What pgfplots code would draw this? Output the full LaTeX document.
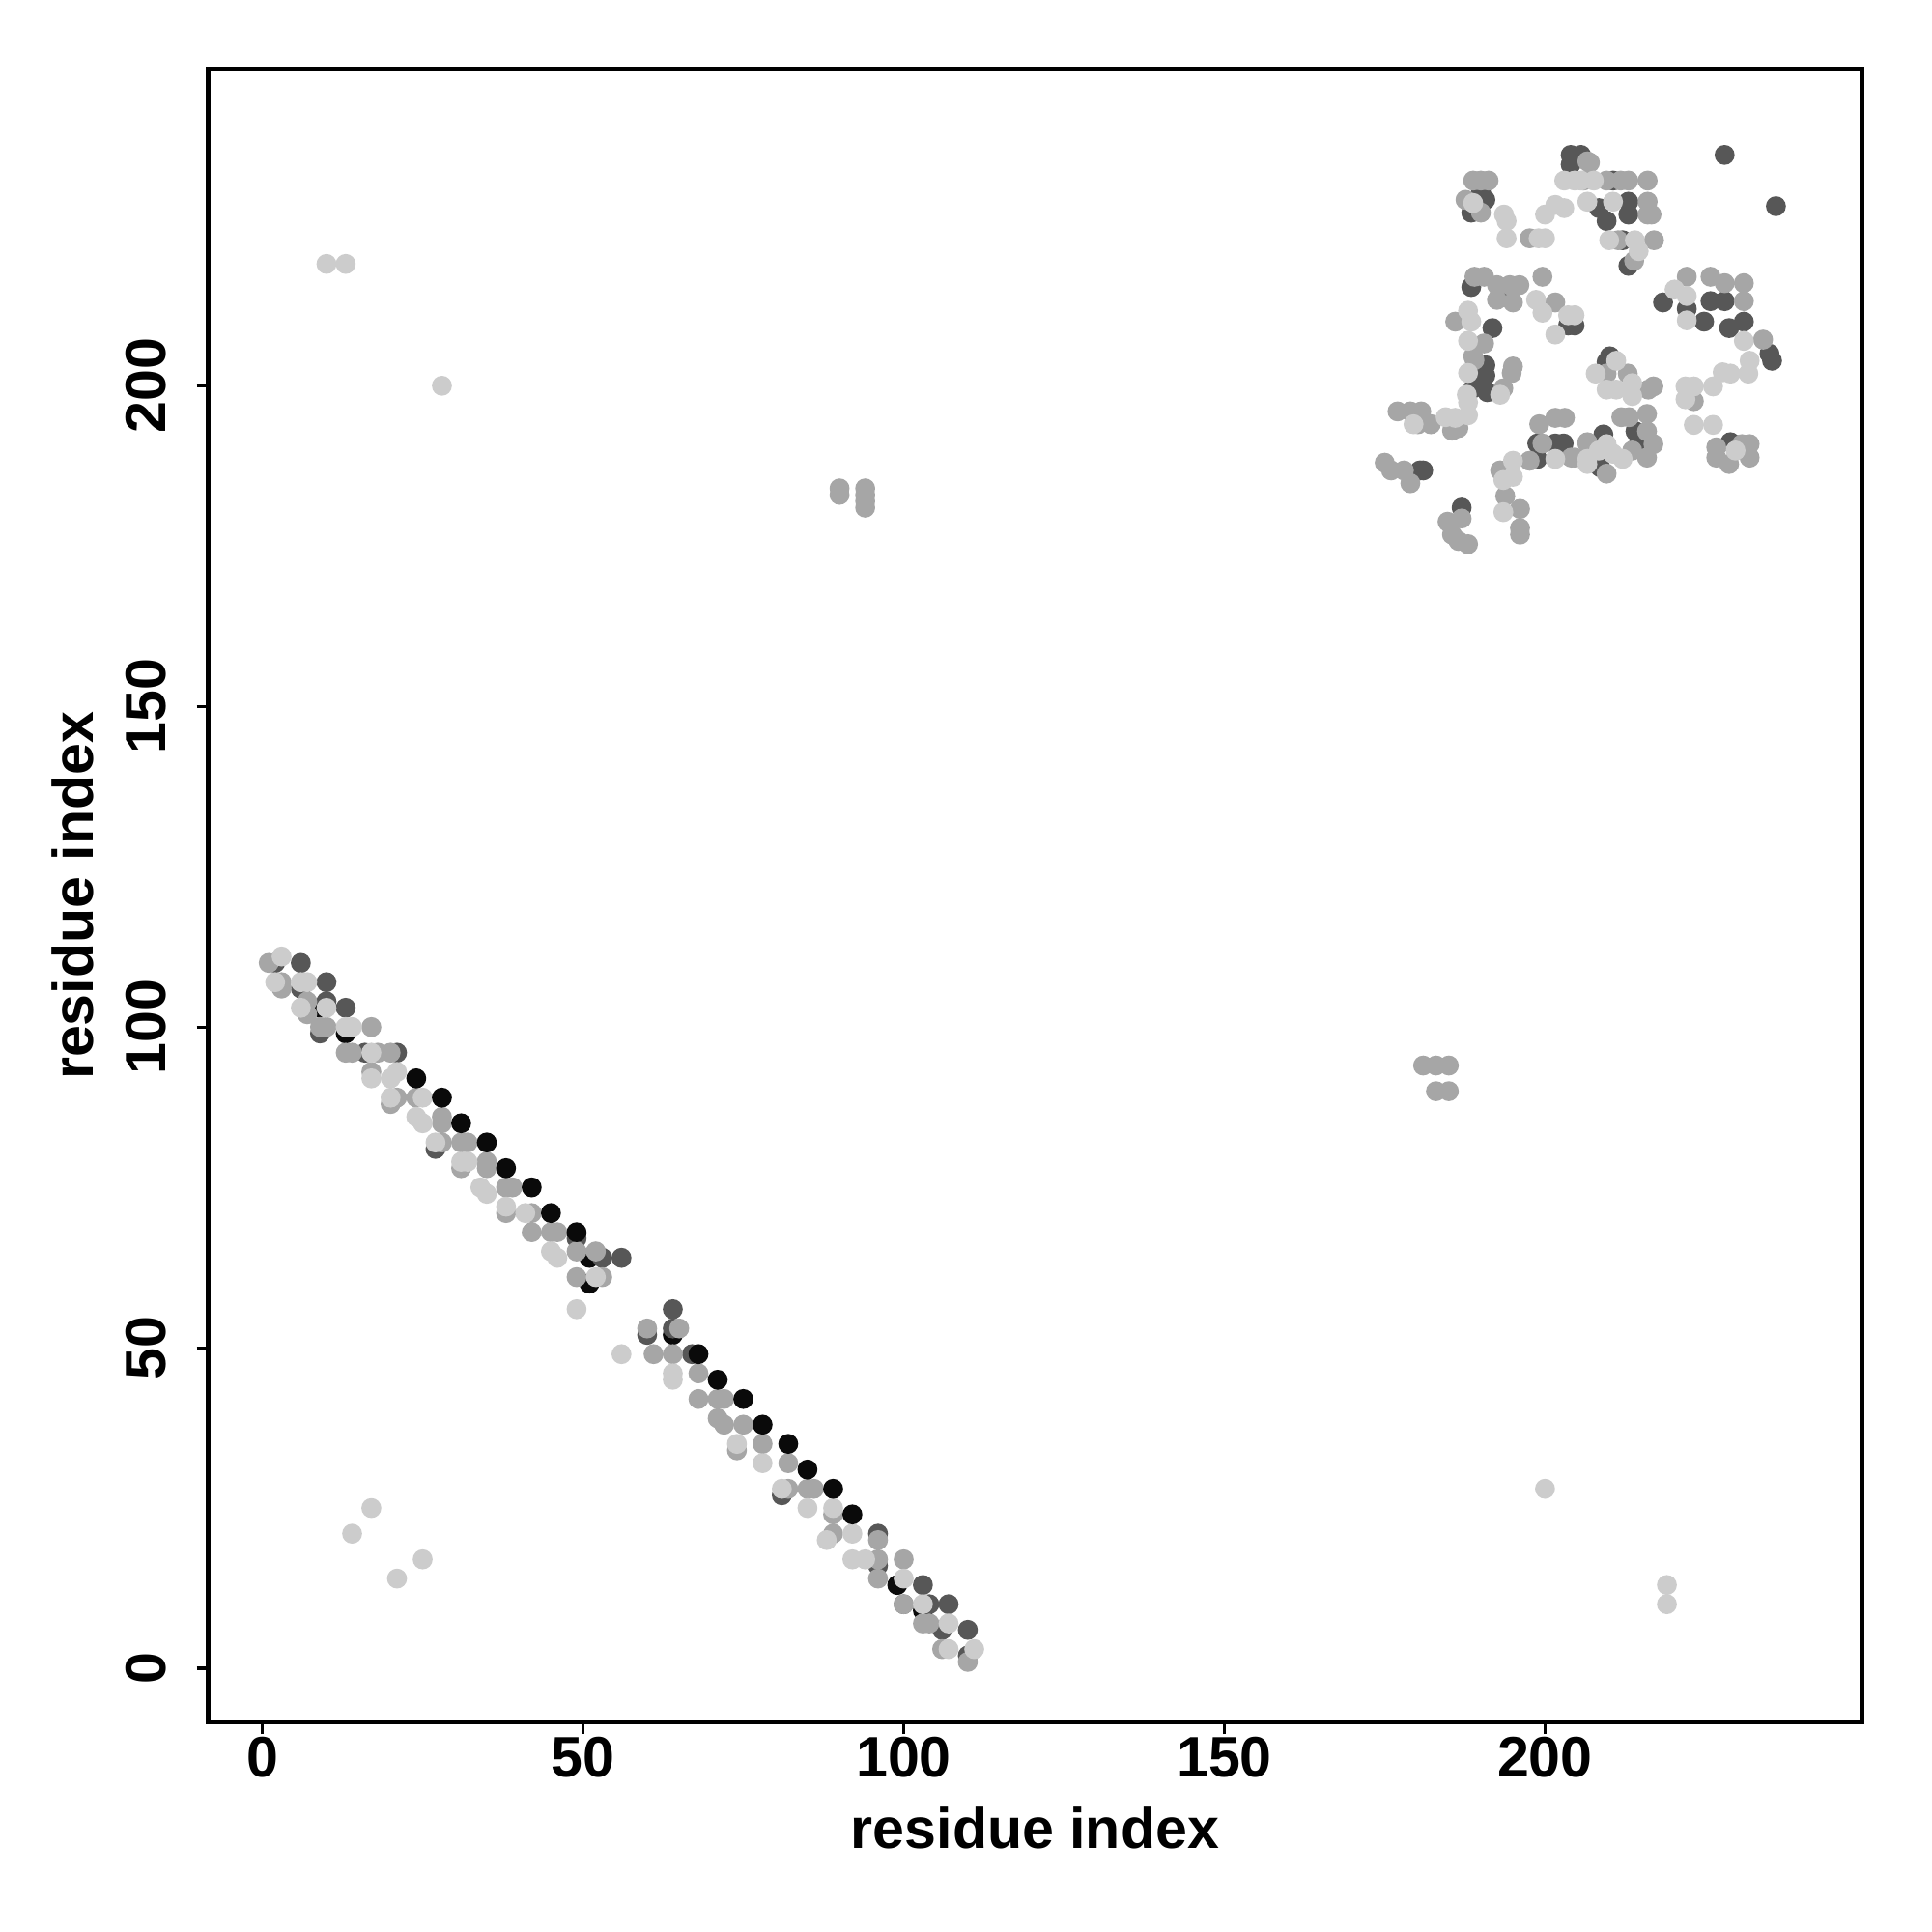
\documentclass[border=0pt]{standalone}
\usepackage{fontspec}
\setmainfont{Liberation Sans}
\usepackage{pgfplots}
\pgfplotsset{compat=1.18}
\definecolor{Kc}{gray}{0.04}
\definecolor{Dc}{gray}{0.34}
\definecolor{Mc}{gray}{0.65}
\definecolor{Lc}{gray}{0.80}
\pgfplotsset{pts/.style={only marks, mark=*, mark size=2.4pt, color=#1, mark options={draw=none, fill=#1}}}
\begin{document}
\begin{tikzpicture}
\begin{axis}[
  scale only axis, width=431.4pt, height=431.4pt,
  xmin=-8.45, xmax=249.4, ymin=-8.47, ymax=249.4,
  xtick={0,50,100,150,200}, ytick={0,50,100,150,200},
  tick align=outside, major tick length=3pt, tick pos=left,
  axis line style={line width=1.1pt},
  every tick/.style={black, line width=0.8pt},
  /pgf/number format/assume math mode=true,
  ticklabel style={font=\fontsize{14.9}{17}\selectfont\bfseries},
  xticklabel style={anchor=center, inner sep=0pt},
  xticklabel shift=6.1pt,
  yticklabel style={rotate=90, anchor=center, inner sep=0pt},
  yticklabel shift=13.2pt,
]
% black, partly covered
\addplot[pts=Kc] coordinates {
(9,103)(13,99)(51,64)(51,60)(64,52)(99,13)(103,9)
};
% dark
\addplot[pts=Dc] coordinates {
(2,110)(6,110)(6,106)(10,107)(10,104)(13,103)(9,99)(16,96)(21,96)(27,81)(49,67)(53,64)(56,64)(64,56)(60,52)(64,53)(67,49)(81,27)(96,21)(96,16)(103,13)(100,10)(104,10)(107,10)(106,6)(110,6)(110,2)
(228,236)(236,228)
(204,236)(204,234.5)(190,230.5)(190.7,229)(188.5,227)(188.5,215.4)(193,214.4)(191.8,209)(203.6,209.4)(205.6,236)(210.6,232)(208.4,227.7)(209.6,225.7)(213,228.7)(213,226.7)(212.1,222.7)(213,218.7)(218.4,213)(222.1,212)(225.8,213.2)(228,213.2)(224.8,210)(228.7,209)(231,210)(235,205)(210.1,204.6)(204.6,209.4)(190.7,203.2)(190.7,201.6)(188.8,199.6)(191,199)(180.5,186.8)(181,186.8)(198.8,191)(198.8,188.6)(201.6,191)(202.9,191)(187,181)(209.6,203.7)(235.4,203.9)(228.9,191.2)(209.1,192.4)(208.6,187.3)(214.1,192.9)(214.6,190.9)
};
% mid
\addplot[pts=Mc] coordinates {
(1,110)(3,107)(3,106)(7,104)(7,102)(9,100)(10,100)(17,100)(13,96)(14,96)(18,96)(20,96)(17,93)(21,89)(24,89)(20,88)(28,86)(28,85)(28,82)(31,82)(32,82)(31,78)(35,79)(35,78)(38,75)(39,75)(38,71)(42,71)(42,68)(45,68)(46,68)(49,65)(52,65)(49,61)(53,61)
(60,53)(65,53)(61,49)(64,49)(68,46)(68,42)(71,42)(72,42)(71,39)(72,38)(75,38)(74,34)(78,35)(82,32)(82,28)(85,28)(86,28)(89,24)(89,21)(96,20)(96,17)(100,17)(96,14)(100,10)(103,7)(104,7)(106,3)(110,1)
(90,184)(90,183)(94,184)(94,183)(94,182)(94,181)(181,94)(183,94)(185,94)(183,90)(185,90)
(206.6,235)(188.8,232)(190,232)(191.2,232)(206,232)(187.6,229)(190,227)(197.6,223)(189,217)(190.5,217)(192.5,215.7)(194.5,215.7)(196,215.7)(195,213)(192.5,213.4)(186,210)(190.5,206.6)(199.6,217)(201.6,213)(188.8,204.6)
(207,234.8)(209.6,232)(211.8,232)(213,232)(216,232)(216,228.7)(216.6,226.7)(216,226.7)(211.4,222.7)(217,222.7)(213.9,219.5)(222.1,217)(225.8,217)(228,216)(231,216)(231,213.2)(234,207.2)
(189,204)(195,203)(194.8,202)(193.5,199.6)(177,196)(179,196)(180.7,196)(180.2,194)(182.2,194)(185.5,193)(186.5,193.4)(175,188)(176,186.8)(178,186.8)(179,184.8)(193,186.8)(199.1,194)(201.6,195)(203.1,195)(199.6,191)(204.1,188.8)(206.6,191)(197.6,188.3)(193.8,182.8)(196.1,180.8)(196.1,177.8)(196.1,176.8)(187,179.3)(184.8,178.8)(185.5,176.8)(186.5,175.8)(188,175.3)
(209.6,201.9)(212.9,201.9)(216.1,199.4)(216.9,199.9)(223.2,197.6)(226.7,190.4)(226.7,188.8)(230.7,190.9)(231.9,190.9)(231.9,188.8)(228.7,187.8)(206.6,191.2)(209.6,186.3)(204.6,188.8)(211.9,195.1)(213.1,195.1)(215.9,195.6)(215.9,192.9)(216.9,190.9)(215.9,188.8)(213.6,189.9)
};
% light
\addplot[pts=Lc] coordinates {
(3,111)(2,107)(6,107)(7,107)(6,103)(10,103)(13,100)(14,100)(17,96)(17,92)(20,92)(21,93)(20,89)(25,89)(24,86)(25,85)(27,82)(31,79)(32,79)(34,75)(35,74)(38,72)(41,71)(45,65)(46,64)(52,61)(49,56)(56,49)(64,46)(64,45)(74,35)(78,32)(81,28)(85,25)(89,25)(88,20)(92,21)(92,17)(94,17)(100,14)(103,10)(107,7)(107,3)(111,3)
(10,219)(13,219)(28,200)(200,28)(219,13)(219,10)(17,25)(14,21)(25,17)(21,14)
(203,232)(204.6,232)(207.6,232)(188.8,228.5)(193.6,226.7)(194,225.7)(194,223)(199,223)(200,223)(200,226.7)(201.6,228.2)(203,227.7)(188,211.7)(188.5,210)(188,207)(198.6,213.4)(199.6,211.4)(203.6,211)(201.6,208)
(205.6,232)(206.6,228.7)(210.6,228.7)(210,222.7)(214,222.7)(214.6,221)(220.2,215)(222.1,214)(222.1,210.2)(231,207)(204.6,211)
(188,202)(193,198.6)(187.8,198.6)(188,197.4)(179.5,194)(184.5,195.1)(186,195)(188,195.4)(195,188.3)(193.5,185.3)(195,185.8)(201.6,188.6)(206.6,188.6)(193.5,180.3)
(211.1,203.9)(207.9,201.9)(209.6,199.4)(211.1,199.4)(213.6,200.4)(213.6,198.4)(221.9,199.9)(223.2,199.9)(221.9,197.9)(226.2,199.9)(227.7,202.1)(228.9,201.9)(231.7,201.9)(231.9,203.9)(223.2,193.9)(226.2,193.9)(229.7,189.9)(208.4,189.9)(209.6,190.9)(210.6,189.4)(212.1,188.6)(206.6,187.8)
};
% black, on the edge of the band
\addplot[pts=Kc] coordinates {
(24,92)(28,89)(31,85)(35,82)(38,78)(42,75)(45,71)(49,68)(68,49)(71,45)(75,42)(78,38)(82,35)(85,31)(89,28)(92,24)
};
\end{axis}
\node[font=\fontsize{14.9}{17}\selectfont\bfseries, anchor=center] at ([yshift=-27.6pt]current axis.south) {residue index};
\node[font=\fontsize{14.9}{17}\selectfont\bfseries, anchor=center, rotate=90] at ([xshift=-35.2pt]current axis.west) {residue index};
\path ([xshift=-54.3pt,yshift=-54.6pt]current axis.south west) rectangle ([xshift=18.3pt,yshift=18pt]current axis.north east);
\end{tikzpicture}
\end{document}
